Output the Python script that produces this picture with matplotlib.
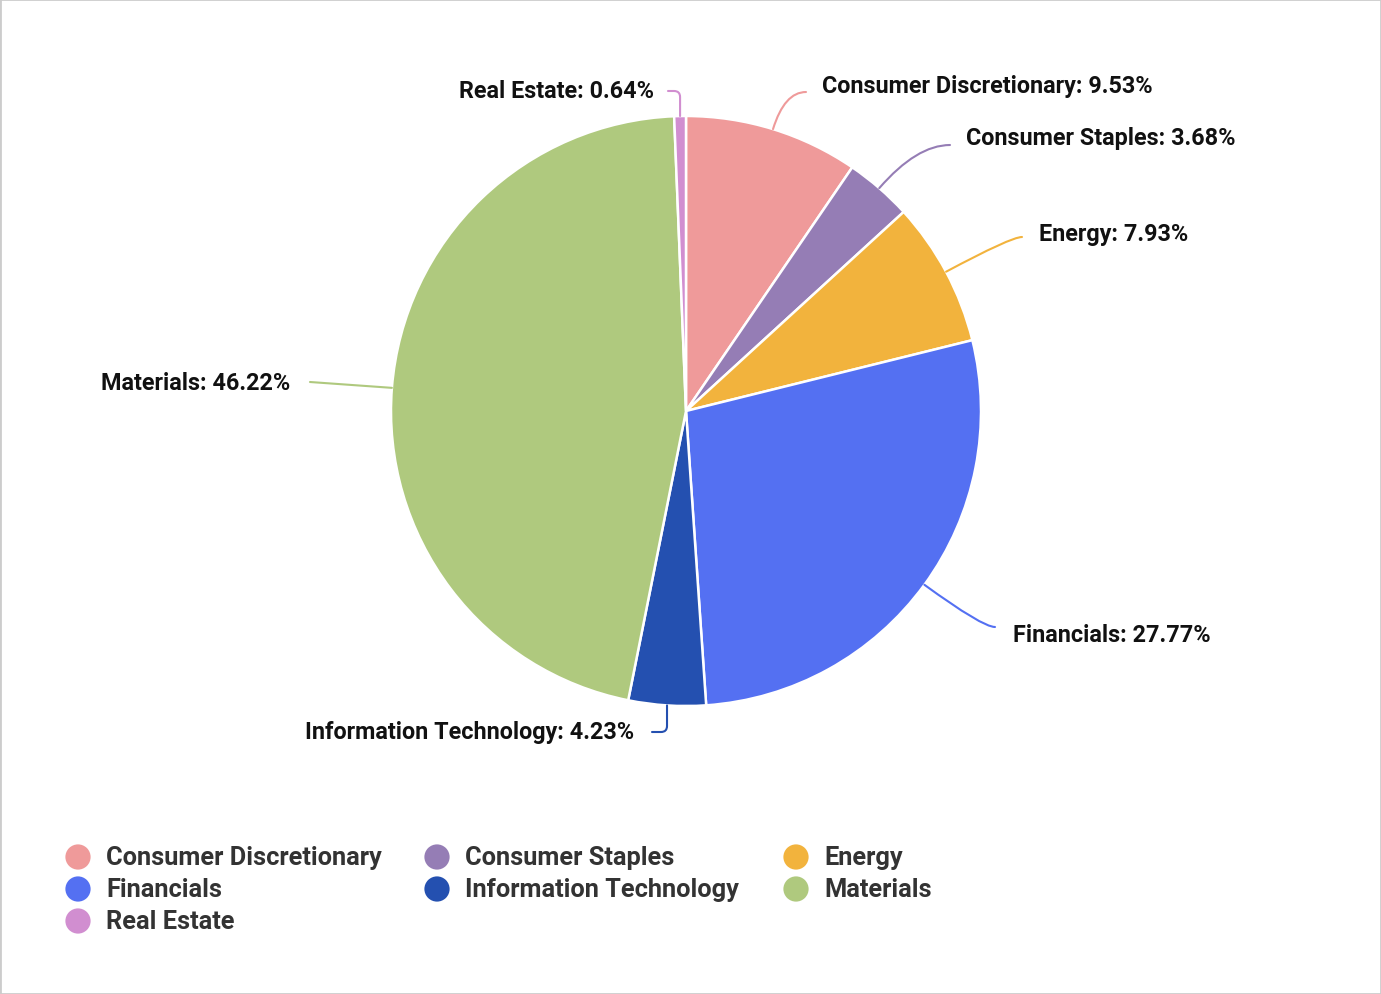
import numpy as np
import matplotlib
matplotlib.use("Agg")
import matplotlib.pyplot as plt
from matplotlib.patches import Rectangle

plt.rcParams['font.family'] = ['Roboto', 'DejaVu Sans']

categories = ["Consumer Discretionary", "Consumer Staples", "Energy", "Financials",
              "Information Technology", "Materials", "Real Estate"]
values = [9.53, 3.68, 7.93, 27.77, 4.23, 46.22, 0.64]
colors = ["#EF9A9A", "#957DB5", "#F2B33D", "#5470F2", "#2450B0", "#AFC97E", "#D18ED0"]

W, H = 1381, 995
fig = plt.figure(figsize=(W / 100, H / 100), dpi=100)

# pie axes: center (686,412) px, radius 295 px
cx, cy, R = 686, 412, 295
half = 400
ax = fig.add_axes([(cx - half) / W, (H - cy - half) / H, 2 * half / W, 2 * half / H])

wedges, _ = ax.pie(values, colors=colors, startangle=90, counterclock=False, radius=1,
                   wedgeprops=dict(edgecolor='white', linewidth=1.8))
ax.set_xlim(-half / R, half / R)
ax.set_ylim(-half / R, half / R)
ax.set_aspect('equal')
ax.axis('off')

def px(x, y):
    return ((x - cx) / R, (cy - y) / R)

# label layout: (line end px, text pos px, ha, connection kind)
layout = {
    "Consumer Discretionary": ((806, 93), (822, 87), 'left', 'curve'),
    "Consumer Staples": ((950, 146), (966, 139), 'left', 'curve'),
    "Energy": ((1022, 238), (1039, 235), 'left', 'curve'),
    "Financials": ((995, 628), (1013, 635), 'left', 'curve'),
    "Information Technology": ((652, 733), (634, 733), 'right', 'angle'),
    "Materials": ((310, 383), (290, 383), 'right', 'straight'),
    "Real Estate": ((668, 92), (654, 91), 'right', 'angle'),
}

for w, cat, val, col in zip(wedges, categories, values, colors):
    mid = np.deg2rad((w.theta1 + w.theta2) / 2)
    edge = (np.cos(mid), np.sin(mid))
    lend, tpos, ha, kind = layout[cat]
    ang = np.rad2deg(mid)
    if kind == 'curve':
        cs = f"angle3,angleA=0,angleB={ang:.2f}"
    elif kind == 'angle':
        cs = "angle,angleA=0,angleB=90,rad=6"
    else:
        cs = "arc3,rad=0"
    ax.annotate("", xy=edge, xytext=px(*lend),
                arrowprops=dict(arrowstyle='-', color=col, lw=1.5,
                                connectionstyle=cs, shrinkA=0, shrinkB=0))
    ax.text(*px(*tpos), f"{cat}: {val:.2f}%", ha=ha, va='center',
            fontsize=16.8, fontweight='bold', color='#111111')

# legend (laid out in pixel coordinates)
lax = fig.add_axes([0, 0, 1, 1])
lax.set_xlim(0, W)
lax.set_ylim(H, 0)
lax.axis('off')
col_x = [78, 437, 796]
row_y = [858, 890, 922]
for i, (cat, col) in enumerate(zip(categories, colors)):
    r, c = divmod(i, 3)
    lax.scatter([col_x[c]], [row_y[r]], s=330, color=col, edgecolors='none')
    lax.text(col_x[c] + 28, row_y[r], cat, ha='left', va='center',
             fontsize=18.3, fontweight='semibold', color='#333333')

fig.patches.append(Rectangle((0, 0), 1, 1, transform=fig.transFigure, fill=False,
                             edgecolor='#cccccc', linewidth=2))

fig.savefig("out.png", dpi=100, facecolor='white')
